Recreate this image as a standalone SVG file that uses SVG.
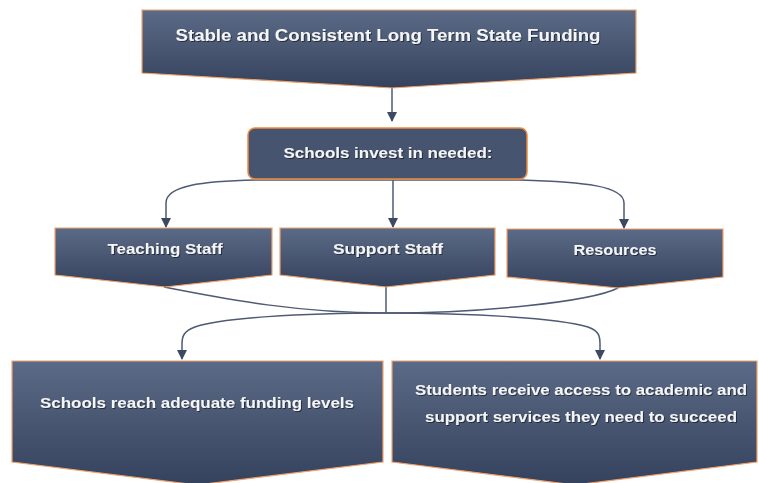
<svg xmlns="http://www.w3.org/2000/svg" width="759" height="483" viewBox="0 0 759 483">
<defs>
  <linearGradient id="g" x1="0" y1="0" x2="0" y2="1">
    <stop offset="0" stop-color="#5b6a86"/>
    <stop offset="1" stop-color="#35425d"/>
  </linearGradient>
  <marker id="arr" markerWidth="10" markerHeight="10" refX="9" refY="5" orient="auto" markerUnits="userSpaceOnUse">
    <path d="M0,0 L10,5 L0,10 Z" fill="#3d4963"/>
  </marker>
  <filter id="ts" x="-10%" y="-50%" width="120%" height="200%">
    <feDropShadow dx="1" dy="1" stdDeviation="0.6" flood-color="#000" flood-opacity="0.5"/>
  </filter>
</defs>
<style>
  .box { fill: url(#g); stroke: #f2a36b; stroke-width: 1.2; }
  .rbox { fill: #47546f; stroke: #ee8a3c; stroke-width: 1.5; }
  .t { font-family: "Liberation Sans", Arial, sans-serif; font-weight: bold; fill: #f4f5f7; text-anchor: middle; filter: url(#ts); }
  .c { fill: none; stroke: #4f5b73; stroke-width: 1.5; }
</style>
<rect width="759" height="483" fill="#ffffff"/>

<g id="connectors">
  <path class="c" d="M392,88 L392,121" marker-end="url(#arr)"/>
  <path class="c" d="M392,180 L260,180 C200,181 166,186 166,203 L166,227" marker-end="url(#arr)"/>
  <path class="c" d="M393,180 L393,227" marker-end="url(#arr)"/>
  <path class="c" d="M392,180 L520,180 C585,182 624,186 624,203 L624,228" marker-end="url(#arr)"/>
  <path class="c" d="M164,287 C230,300 300,313 386,313"/>
  <path class="c" d="M386,287 L386,313"/>
  <path class="c" d="M618,288 C590,302 480,313 386,313"/>
  <path class="c" d="M386,313 C300,313 220,318 195,327 C184,331 182,336 182,344 L182,359" marker-end="url(#arr)"/>
  <path class="c" d="M386,313 C470,313 560,318 588,327 C599,331 600,336 600,344 L600,359" marker-end="url(#arr)"/>
</g>

<g id="node-funding">
  <path class="box" d="M142,10 H636 V73 L392,88 L142,73 Z"/>
  <text class="t" x="388" y="41" font-size="16" textLength="425" lengthAdjust="spacingAndGlyphs">Stable and Consistent Long Term State Funding</text>
</g>

<g id="node-invest">
  <rect class="rbox" x="248" y="128" width="279" height="51" rx="7"/>
  <text class="t" x="388" y="158" font-size="15" textLength="209" lengthAdjust="spacingAndGlyphs">Schools invest in needed:</text>
</g>

<g id="node-teaching">
  <path class="box" d="M55,228 H272 V275 L165,287 L55,275 Z"/>
  <text class="t" x="165" y="254" font-size="15" textLength="115" lengthAdjust="spacingAndGlyphs">Teaching Staff</text>
</g>

<g id="node-support">
  <path class="box" d="M280,228 H495 V275 L386,287 L280,275 Z"/>
  <text class="t" x="388" y="254" font-size="15" textLength="110" lengthAdjust="spacingAndGlyphs">Support Staff</text>
</g>

<g id="node-resources">
  <path class="box" d="M507,229 H723 V277 L618,288 L507,277 Z"/>
  <text class="t" x="615" y="255" font-size="15" textLength="83" lengthAdjust="spacingAndGlyphs">Resources</text>
</g>

<g id="node-adequate">
  <path class="box" d="M12,361 H383 V462 L197,485 L12,462 Z"/>
  <text class="t" x="197" y="408" font-size="15" textLength="314" lengthAdjust="spacingAndGlyphs">Schools reach adequate funding levels</text>
</g>

<g id="node-students">
  <path class="box" d="M392,361 H757 V462 L575,485 L392,462 Z"/>
  <text class="t" x="581" y="395" font-size="15" textLength="332" lengthAdjust="spacingAndGlyphs">Students receive access to academic and</text>
  <text class="t" x="581" y="422" font-size="15" textLength="312" lengthAdjust="spacingAndGlyphs">support services they need to succeed</text>
</g>
</svg>
